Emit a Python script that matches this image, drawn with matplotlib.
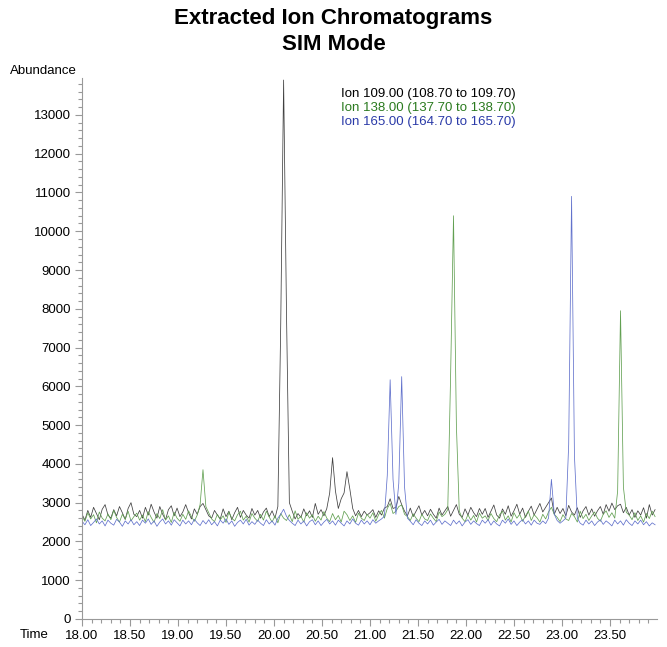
import numpy as np
import matplotlib
matplotlib.use("Agg")
import matplotlib.pyplot as plt
from matplotlib.ticker import MultipleLocator

plt.rcParams["font.family"] = ["Liberation Sans", "DejaVu Sans"]

# sampling: 0.03 min from 18.00
t_start = 18.0
t_step = 0.03

ion109 = [
    2700, 2550, 2800, 2620, 2880, 2720, 2560, 2830, 2950, 2680, 2600, 2820, 2660, 2900, 2740, 2570, 2850, 3000, 2700, 2640,
    2800, 2600, 2880, 2680, 2960, 2760, 2600, 2900, 2700, 2560, 2820, 2920, 2660, 2860, 2640, 2760, 2950, 2740, 2580, 2840,
    2700, 2900, 2980, 2820, 2660, 2600, 2800, 2680, 2580, 2840, 2640, 2780, 2560, 2740, 2880, 2620, 2800, 2680, 2600, 2850,
    2680, 2800, 2600, 2760, 2860, 2640, 2790, 2600, 2900, 7600, 13900, 7900, 3000, 2780, 2580, 2720, 2620, 2840, 2660, 2790,
    2620, 2980, 2700, 2820, 2660, 2850, 3250, 4160, 3300, 2850, 3100, 3250, 3800, 3350, 2850, 2660, 2800, 2640, 2780, 2680,
    2740, 2820, 2620, 2790, 2680, 2860, 2900, 3100, 2850, 2880, 3160, 2950, 2780, 2660, 2860, 2640, 2780, 2920, 2680, 2800,
    2660, 2830, 2700, 2600, 2860, 2680, 2790, 2900, 2650, 2800, 2950, 2700, 2620, 2840, 2680, 2880, 2740, 2640, 2850, 2700,
    2850, 2620, 2780, 2940, 2680, 2600, 2840, 2700, 2920, 2650, 2790, 2960, 2700, 2860, 2620, 2780, 2910, 2680, 2830, 2980,
    2760, 2880, 3000, 3120, 2700, 2880, 2720, 2850, 2660, 2930, 2760, 2680, 2870, 2620, 2790, 2900, 2680, 2840, 2650, 2790,
    2900, 2700, 2950, 2780, 2990, 2820, 2920, 2960, 2740, 2880, 2680, 2820, 2620, 2790, 2680, 2870, 2600, 2950, 2680, 2820,
]

ion138 = [
    2650, 2520, 2740, 2580, 2690, 2480, 2760, 2600, 2530, 2710, 2560, 2800, 2620, 2500, 2700, 2570, 2780, 2530, 2640, 2730,
    2550, 2680, 2510, 2770, 2620, 2490, 2720, 2590, 2820, 2550, 2660, 2490, 2750, 2600, 2520, 2700, 2570, 2790, 2640, 2520,
    2680, 2950, 3850, 2900, 2740, 2580, 2510, 2700, 2560, 2660, 2490, 2760, 2600, 2530, 2690, 2780, 2550, 2650, 2500, 2720,
    2600, 2520, 2700, 2550, 2780, 2630, 2500, 2660, 2480, 2720, 2600, 2540, 2690, 2510, 2790, 2570, 2650, 2500, 2740, 2600,
    2690, 2520, 2650, 2550, 2770, 2600, 2510, 2720, 2560, 2670, 2500, 2780, 2690, 2540, 2660, 2490, 2730, 2600, 2540, 2700,
    2600, 2740, 2520, 2690, 2800, 2600, 2850, 2980, 2720, 2780, 2900, 2940, 2700, 2640, 2540, 2710, 2600, 2510, 2700, 2580,
    2540, 2710, 2600, 2510, 2760, 2640, 2700, 2820, 6300, 10400, 5000, 2780, 2600, 2510, 2690, 2550, 2670, 2500, 2730, 2600,
    2660, 2540, 2720, 2590, 2510, 2690, 2780, 2550, 2660, 2500, 2740, 2600, 2700, 2520, 2660, 2780, 2540, 2690, 2610, 2500,
    2700, 2580, 2760, 2880, 2700, 2620, 2510, 2690, 2580, 2540, 2720, 2640, 2500, 2780, 2590, 2700, 2540, 2660, 2760, 2600,
    2520, 2700, 2790, 2620, 2740, 2600, 3300, 7950, 3400, 2750, 2680, 2560, 2740, 2540, 2660, 2500, 2720, 2590, 2780, 2640,
]

ion165 = [
    2520, 2430, 2560, 2410, 2490, 2580, 2450, 2530, 2400, 2550, 2470, 2420, 2570, 2500, 2390, 2530, 2450, 2560, 2430, 2510,
    2410, 2550, 2470, 2580, 2440, 2530, 2390, 2500, 2580, 2450, 2530, 2420, 2560, 2480, 2400, 2550, 2450, 2530, 2430, 2570,
    2480, 2410, 2540, 2450, 2560, 2430, 2510, 2400, 2550, 2470, 2580, 2440, 2530, 2390, 2490, 2550, 2450, 2570, 2420, 2510,
    2440, 2550, 2470, 2410, 2560, 2450, 2530, 2420, 2600, 2700, 2830, 2650, 2540, 2470, 2410, 2550, 2450, 2530, 2400, 2510,
    2560, 2430, 2530, 2410, 2500, 2570, 2450, 2530, 2420, 2550, 2470, 2400, 2530, 2450, 2580, 2470, 2420, 2550, 2450, 2530,
    2430, 2560, 2470, 2530, 2580, 2650, 3700, 6170, 3600, 2700, 3500, 6250, 3400, 2600, 2520, 2430, 2560, 2470, 2410, 2530,
    2450, 2550, 2420, 2500, 2570, 2440, 2530, 2470, 2410, 2550, 2450, 2530, 2400, 2500, 2560, 2440, 2530, 2460, 2410, 2550,
    2470, 2560, 2420, 2530, 2450, 2400, 2550, 2470, 2580, 2440, 2530, 2410, 2500, 2560, 2450, 2530, 2420, 2550, 2470, 2440,
    2530, 2460, 2600, 3600, 2700, 2540, 2470, 2530, 2600, 4500, 10900, 4200, 2600, 2470, 2420, 2550, 2450, 2530, 2410, 2500,
    2560, 2440, 2530, 2470, 2400, 2550, 2450, 2530, 2420, 2560, 2470, 2410, 2530, 2450, 2550, 2430, 2510, 2400, 2480, 2430,
]

labels = [
    "Ion 109.00 (108.70 to 109.70)",
    "Ion 138.00 (137.70 to 138.70)",
    "Ion 165.00 (164.70 to 165.70)",
]
line_colors = ["#404040", "#62a052", "#6272cc"]
text_colors = ["#000000", "#2a7a1e", "#2a3aa8"]

t = t_start + t_step * np.arange(len(ion109))

fig = plt.figure(figsize=(6.67, 6.47), dpi=100)
ax = fig.add_axes([0.123, 0.0433, 0.862, 0.836])

for y, c in zip([ion109, ion138, ion165], line_colors):
    ax.plot(t, y, color=c, lw=0.55)

ax.set_xlim(18.0, 23.99)
ax.set_ylim(0, 13950)
ax.set_xticks(np.arange(18.0, 23.51, 0.5))
ax.set_xticklabels([f"{v:.2f}" for v in np.arange(18.0, 23.51, 0.5)])
ax.xaxis.set_minor_locator(MultipleLocator(0.1))
ax.yaxis.set_major_locator(MultipleLocator(1000))
ax.yaxis.set_minor_locator(MultipleLocator(200))

for s in ["top", "right"]:
    ax.spines[s].set_visible(False)
for s in ["left", "bottom"]:
    ax.spines[s].set_color("#999999")
    ax.spines[s].set_linewidth(0.8)

ax.tick_params(which="major", length=5, color="#999999", width=0.8, labelsize=9.5, pad=3)
ax.tick_params(which="minor", length=3, color="#999999", width=0.8)

fig.text(0.5, 0.988, "Extracted Ion Chromatograms\nSIM Mode", ha="center", va="top",
         fontsize=16, fontweight="bold", linespacing=1.35)
fig.text(0.115, 0.89, "Abundance", ha="right", va="center", fontsize=9.5)
fig.text(0.03, 0.018, "Time", ha="left", va="center", fontsize=9.5)

for i, (lab, c) in enumerate(zip(labels, text_colors)):
    ax.text(0.45, 0.97 - i * 0.026, lab, transform=ax.transAxes, color=c,
            fontsize=9.5, ha="left", va="center")

fig.savefig("out.png", dpi=100)
